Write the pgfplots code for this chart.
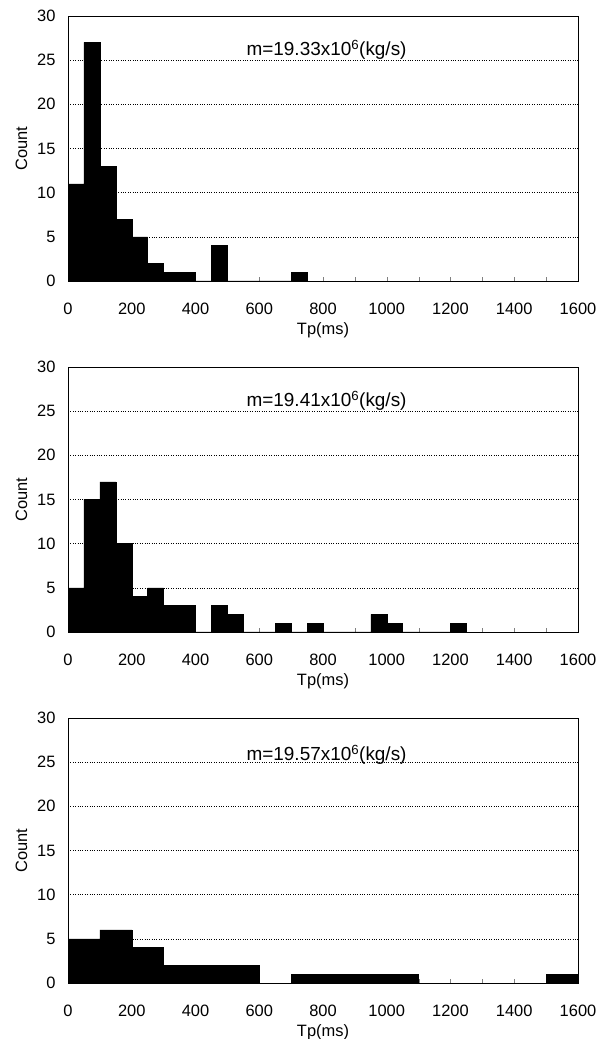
\documentclass[border=0pt]{standalone}
\usepackage{fontspec}
\setmainfont{Liberation Sans}
\usepackage{pgfplots}
\pgfplotsset{compat=1.18}

\tikzset{note/.style={font=\fontsize{19}{21}\selectfont}}

\pgfplotsset{
  histo/.style={
    anchor=south west,
    scale only axis,
    width=510bp,height=265bp,
    xmin=0,xmax=1600,ymin=0,ymax=30,
    xtick={0,200,...,1600},
    minor x tick num=1,
    ytick={0,5,...,30},
    tick pos=left,
    xtick align=inside,
    major tick length=4bp,minor tick length=4bp,
    ytick style={draw=none},
    ymajorgrids,
    grid style={dotted,black,line width=0.6pt},
    axis line style={line width=0.8pt},
    tick label style={font=\fontsize{16.5}{18}\selectfont},
    label style={font=\fontsize{16.5}{18}\selectfont},
    /pgf/number format/assume math mode=true,
    /pgf/number format/1000 sep={},
    scaled ticks=false,
    xticklabel style={yshift=-19bp},
    yticklabel style={xshift=-9bp},
    xlabel={Tp(ms)},
    ylabel={Count},
    xlabel style={yshift=-1bp},
    ylabel style={yshift=3bp},
  },
  bars/.style={ybar interval,fill=black,draw=black,line width=0.4pt},
}

\begin{document}
\begin{tikzpicture}
\useasboundingbox (0,0) rectangle (616bp,1039bp);

% top panel, 50 ms bins
\begin{axis}[histo,at={(68bp,758bp)}]
\addplot[bars] coordinates {
(0,11)(50,27)(100,13)(150,7)(200,5)(250,2)(300,1)(350,1)(400,0)(450,4)
(500,0)(550,0)(600,0)(650,0)(700,1)(750,0)};
\node[note] at (rel axis cs:0.507,0.872) {m=19.33x10\textsuperscript{6}(kg/s)};
\end{axis}

% middle panel, 50 ms bins
\begin{axis}[histo,at={(68bp,407bp)}]
\addplot[bars] coordinates {
(0,5)(50,15)(100,17)(150,10)(200,4)(250,5)(300,3)(350,3)(400,0)(450,3)
(500,2)(550,0)(600,0)(650,1)(700,0)(750,1)(800,0)(850,0)(900,0)(950,2)
(1000,1)(1050,0)(1100,0)(1150,0)(1200,1)(1250,0)};
\node[note] at (rel axis cs:0.507,0.872) {m=19.41x10\textsuperscript{6}(kg/s)};
\end{axis}

% bottom panel, 100 ms bins
\begin{axis}[histo,at={(68bp,56bp)}]
\addplot[bars] coordinates {
(0,5)(100,6)(200,4)(300,2)(400,2)(500,2)(600,0)(700,1)(800,1)(900,1)
(1000,1)(1100,0)(1200,0)(1300,0)(1400,0)(1500,1)(1600,0)};
\node[note] at (rel axis cs:0.507,0.862) {m=19.57x10\textsuperscript{6}(kg/s)};
\end{axis}
\end{tikzpicture}
\end{document}
